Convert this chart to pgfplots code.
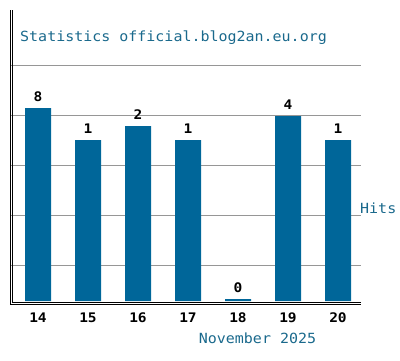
\documentclass[border=0pt]{standalone}
\usepackage{pgfplots}
\pgfplotsset{compat=1.18}
\usepackage{graphicx}
\usepackage{fontspec}
\newfontfamily\mono{DejaVu Sans Mono}
\definecolor{barblue}{RGB}{0,102,153}
\definecolor{txtblue}{RGB}{26,105,140}
\definecolor{gridgray}{RGB}{150,150,150}
\newcommand\widen[1]{\scalebox{1.1}[1]{#1}}
\begin{document}
\begin{tikzpicture}
\useasboundingbox (0,0) rectangle (400pt,360pt);
\begin{axis}[
  at={(11pt,59pt)}, anchor=south west,
  scale only axis, width=350pt, height=290pt,
  xmin=-0.54, xmax=6.46, ymin=0, ymax=290,
  axis line style={draw=none},
  ybar, bar width=26pt,
  ytick={35.5,85.5,135.5,185.5,235.5}, yticklabels={},
  ymajorgrids, grid style={gridgray, line width=0.8pt},
  major tick length=0pt,
  xtick={0,1,2,3,4,5,6},
  xticklabels={\widen{14},\widen{15},\widen{16},\widen{17},\widen{18},\widen{19},\widen{20}},
  xticklabel style={anchor=center, inner sep=0pt, yshift=-17pt,
    font=\mono\bfseries\fontsize{13.2pt}{13.2pt}\selectfont, text=black},
  clip=false,
]
\addplot[fill=barblue, draw=none,
  nodes near coords={\widen{\pgfplotspointmeta}},
  point meta=explicit symbolic,
  every node near coord/.append style={anchor=south, inner sep=0pt, yshift=6.5pt,
    font=\mono\bfseries\fontsize{13.2pt}{13.2pt}\selectfont, text=black}]
  table[x=x, y=y, meta=label] {
x y label
0 193 8
1 161 1
2 175 2
3 161 1
4 2 0
5 185 4
6 161 1
};
\end{axis}
\draw[black, line width=1pt] (10.5pt,350pt) -- (10.5pt,55.5pt) -- (361pt,55.5pt);
\draw[black, line width=1pt] (12.5pt,350pt) -- (12.5pt,57.5pt) -- (361pt,57.5pt);
\node[anchor=west, inner sep=0pt, text=txtblue, font=\mono\fontsize{14pt}{14pt}\selectfont] at (20pt,322pt) {\scalebox{1.07}[1]{Statistics official.blog2an.eu.org}};
\node[anchor=center, inner sep=0pt, text=txtblue, font=\mono\fontsize{14pt}{14pt}\selectfont] at (257.5pt,22pt) {\scalebox{1.07}[1]{November 2025}};
\node[anchor=west, inner sep=0pt, text=txtblue, font=\mono\fontsize{14pt}{14pt}\selectfont] at (360pt,152pt) {\scalebox{1.07}[1]{Hits}};
\end{tikzpicture}
\end{document}
